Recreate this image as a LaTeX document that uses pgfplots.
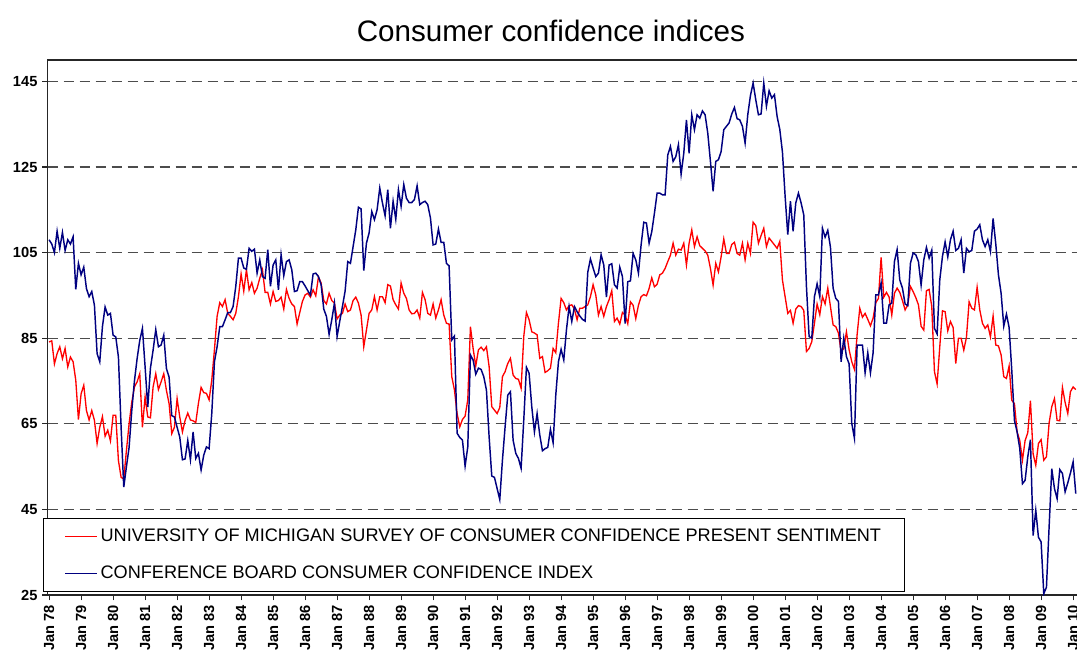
\documentclass[border=0pt]{standalone}
\usepackage{pgfplots}
\pgfplotsset{compat=1.18}
\usepackage{pgfplotstable}
\usepackage{fontspec}
\setmainfont{Liberation Sans}
\definecolor{umred}{RGB}{255,0,0}
\definecolor{cbnavy}{RGB}{0,0,128}
\pgfplotstableread{
m cb um
0 108 84.1
1 107 84.4
2 105 79
3 110 81.4
4 106 83.0
5 109.7 80.2
6 105.5 82.6
7 108 78.3
8 107 80.6
9 108.7 79.5
10 96.4 75.2
11 102.5 66
12 99.8 72.0
13 101.6 74.0
14 96.6 68.1
15 94.7 65.9
16 95.9 68.1
17 92.7 65.8
18 81.4 60.4
19 79.5 64.2
20 87.7 66.7
21 92.3 62.1
22 90.4 63.5
23 90.8 61.0
24 85.7 67.0
25 85.3 67.0
26 80.6 56.4
27 64.2 52.5
28 50.2 52.1
29 55 58.8
30 59.5 65.0
31 68.1 70
32 75 73.6
33 80.2 74.8
34 84.5 76.7
35 87.3 64.2
36 78.3 71.3
37 68.9 66.6
38 78 66.4
39 82.2 73.6
40 87.0 76.7
41 83.0 73.0
42 83.4 74.8
43 85.7 76.7
44 77.9 72.8
45 75.9 69.7
46 66.9 62.7
47 66.6 64.2
48 64.2 70.9
49 61.9 66.6
50 56.6 63.1
51 56.8 65.8
52 61.1 67.5
53 56.6 65.9
54 63.1 65.7
55 56.9 65.3
56 58.1 69.8
57 54.2 73.5
58 57.7 72.3
59 59.6 72.1
60 59.2 70.6
61 67.4 75.2
62 79.5 82.3
63 83.0 90.1
64 87.7 93.3
65 87.7 92.4
66 89.3 94.0
67 91.0 90.8
68 91.0 90.1
69 92.4 89.3
70 97.1 90.8
71 103.7 94.7
72 103.7 100.0
73 101.4 96
74 101.1 101.0
75 106.0 96.3
76 105.3 98.0
77 105.8 95.5
78 100.2 96.7
79 103.3 99.0
80 99.4 101.0
81 99.0 95.7
82 105.7 95.7
83 97.1 93.0
84 102.1 95.9
85 103.3 93.6
86 96.3 93.8
87 104.5 94.6
88 99.6 91.8
89 102.9 96.4
90 103.3 94.3
91 101.0 93.0
92 95.9 92.4
93 96.1 88.3
94 98.2 91.0
95 98.2 93.6
96 97.2 95.1
97 96.1 95.5
98 95.1 94.6
99 100.0 96.3
100 100.2 94.9
101 99.4 99.3
102 97.5 97.9
103 91.8 93.8
104 90.1 93.0
105 85.9 95.5
106 89.3 93.8
107 93.2 93.2
108 85.4 89.5
109 89 90.4
110 92.4 90.8
111 96 93.0
112 102.9 91.2
113 102.5 91.6
114 106.4 93.8
115 110.3 94.6
116 115.6 93.2
117 115.2 90.4
118 100.8 83.0
119 107.2 86.9
120 109.6 90.8
121 114.6 91.6
122 112.7 94.7
123 115.0 91.6
124 120.1 94.7
125 116.6 94.7
126 113.6 93.3
127 119.7 97.5
128 110.7 97.2
129 117.0 94.0
130 112.8 92.8
131 119.7 91.8
132 115.8 97.9
133 120.9 95.5
134 117.7 94.3
135 116.7 91.6
136 116.7 90.7
137 117.4 90.8
138 120.6 91.6
139 116.2 89.7
140 116.7 95.7
141 117.0 94.0
142 116.2 90.8
143 113.1 90.4
144 106.8 93.0
145 107 89.7
146 110.5 91.6
147 107.4 94.0
148 107.4 90.4
149 102.5 88.5
150 101.9 88.3
151 84.6 76.0
152 85.5 72.9
153 62.8 67.4
154 61.8 64.3
155 61.2 66.0
156 55.1 66.8
157 59.6 70.6
158 81.1 87.7
159 79.9 82.6
160 76.6 78.5
161 78.0 82.3
162 77.7 82.9
163 76.0 82.1
164 72.9 83.0
165 62.0 78.4
166 52.8 69.0
167 52.5 68.2
168 49.9 67.4
169 47.3 68.8
170 56.5 76.0
171 64.3 77.2
172 71.7 79.1
173 72.5 80.3
174 61.2 76.4
175 58.1 75.6
176 56.9 75.4
177 54.6 73.3
178 65.9 85.4
179 78.2 91.0
180 76.8 89.3
181 69.0 86.5
182 63.1 86.2
183 67.4 85.8
184 62.4 80.3
185 58.7 80.7
186 59.2 77.0
187 59.5 77.4
188 63.7 78.0
189 60.6 82.6
190 71.7 81.6
191 79.5 88.5
192 82.4 94.3
193 79.9 93.3
194 86.9 91.6
195 92.4 92.6
196 88.9 92.8
197 92.4 91.8
198 91.2 89.3
199 90.2 92.0
200 89.4 92.0
201 89.0 92.4
202 100.4 92.8
203 103.5 94.7
204 101.4 97.5
205 99.4 95.1
206 100.2 90.4
207 104.5 92.4
208 102.1 90.1
209 94.6 92.4
210 102.1 94.0
211 102.4 96.1
212 97.5 88.9
213 96.7 89.7
214 101.6 88.3
215 99.4 91.0
216 88.4 90.4
217 98.2 88.4
218 98.4 93.5
219 104.8 92.7
220 103.3 89.6
221 100.2 92.7
222 106.8 94.7
223 112.1 95.2
224 111.9 94.9
225 107.2 96.6
226 109.9 99.1
227 114.2 97.0
228 118.9 97.6
229 118.9 99.8
230 118.5 100.2
231 118.5 101.3
232 127.8 102.9
233 129.8 104.4
234 126.3 107.2
235 127.4 104.4
236 130.2 105.8
237 123.3 105.6
238 128.2 107.2
239 136.0 102.1
240 128.2 107.2
241 137.2 110.3
242 133.7 106.4
243 137.2 108.7
244 136.4 106.6
245 138.1 106.0
246 137.2 105.4
247 132.9 104.4
248 126.3 101.3
249 119.3 97.4
250 126.3 102.5
251 126.7 100.5
252 128.6 104.0
253 133.7 108.2
254 134.5 104.8
255 135.3 104.8
256 137.4 106.9
257 138.9 107.4
258 136.3 104.8
259 136.0 104.4
260 134.5 107.2
261 130.6 103.3
262 137.2 107.2
263 141.7 104.8
264 144.6 112.1
265 140.7 111.3
266 137.2 107.2
267 137.4 109.0
268 144.6 110.7
269 139.2 106.4
270 142.8 108.4
271 141.1 107.6
272 141.9 106.8
273 136.8 106.0
274 133.8 107.6
275 128.5 98.6
276 118.2 94.7
277 109.2 90.8
278 117.0 91.5
279 110.0 88.5
280 116.6 91.8
281 118.9 92.6
282 116.6 92.4
283 113.8 91.5
284 97.1 81.9
285 85.4 82.6
286 85.0 84.2
287 94.7 88.5
288 97.7 93.0
289 94.7 90.5
290 110.7 94.7
291 108.6 93.0
292 110.2 96.7
293 106.3 92.4
294 96.7 88.1
295 94.3 87.7
296 93.6 86.2
297 79.5 81.9
298 85.0 82.6
299 80.7 86.5
300 79.0 82.3
301 65.1 79.5
302 61.6 77.7
303 83.4 85.8
304 83.4 92.0
305 83.4 89.9
306 76.9 90.8
307 81.6 89.4
308 76.9 87.9
309 81.6 89.7
310 95.1 93.3
311 95.1 94.3
312 97.9 103.9
313 88.5 94.6
314 88.5 95.7
315 92.8 94.6
316 93.2 90.4
317 102.9 95.5
318 105.7 96.7
319 98.6 95.7
320 96.7 93.8
321 93.0 91.6
322 92.6 92.8
323 102.5 97.1
324 104.9 95.9
325 104.5 94.5
326 102.9 92.8
327 97.4 87.8
328 103.3 86.9
329 106.2 96.1
330 103.7 96.4
331 105.6 92.4
332 87.3 77.2
333 86 74.3
334 98.6 83.0
335 104.1 91.4
336 107.5 91.2
337 104 86.7
338 108 88.9
339 110 87.5
340 105.5 79.1
341 106 85.0
342 108 85.0
343 100.2 82.2
344 106 85.2
345 105.2 93.5
346 105.5 92.0
347 110 91.6
348 110.5 96.9
349 111.5 91.6
350 108 88.5
351 106.4 87.3
352 108 88.1
353 105.2 85.3
354 113 90.2
355 107 83.4
356 99.8 83.2
357 95.5 81.1
358 87.8 76.0
359 90.6 75.6
360 87.5 78.5
361 77.5 70.5
362 65.8 69.7
363 63.1 63.1
364 59.2 61.1
365 51.0 56.5
366 51.8 61.1
367 57.3 62.9
368 61.3 70.4
369 38.9 58.0
370 44.8 55.3
371 38.5 60.4
372 37.4 61.3
373 25.3 56.5
374 26.8 57.3
375 40.9 65.2
376 54.5 69.0
377 49.9 70.9
378 47.5 65.8
379 54.3 65.7
380 53.4 73.5
381 49.1 70
382 51.2 67.4
383 53.5 72.5
384 56.1 73.6
385 48.7 73.0
}\datatable
\begin{document}
\begin{tikzpicture}
\begin{axis}[
  at={(0pt,0pt)}, anchor=south west,
  x=2pt, y=3.21pt,
  xmin=-0.6, xmax=386.5,
  ymin=25, ymax=150,
  axis line style={black!85, line width=0.9pt},
  tick pos=left,
  tick align=outside,
  major tick length=4pt,
  tick style={black!85, line width=0.9pt},
  ytick={25,45,65,85,105,125,145},
  ymajorgrids,
  grid style={black!70, line width=0.8pt, dash pattern=on 7.5pt off 4.5pt},
  xtick={0,12,...,384},
  xticklabels={Jan 78,Jan 79,Jan 80,Jan 81,Jan 82,Jan 83,Jan 84,Jan 85,Jan 86,Jan 87,Jan 88,Jan 89,Jan 90,Jan 91,Jan 92,Jan 93,Jan 94,Jan 95,Jan 96,Jan 97,Jan 98,Jan 99,Jan 00,Jan 01,Jan 02,Jan 03,Jan 04,Jan 05,Jan 06,Jan 07,Jan 08,Jan 09,Jan 10},
  x tick label style={rotate=90, anchor=east, font=\bfseries\fontsize{11}{13}\selectfont},
  y tick label style={font=\bfseries\fontsize{11}{13}\selectfont},
  /pgf/number format/assume math mode=true,
  title={Consumer confidence indices},
  title style={at={(0.4877,1.0342)}, anchor=base, yshift=-6pt, inner sep=0pt, font=\fontsize{22.2}{27}\selectfont},
  legend cell align=left,
  legend style={at={(-0.0044,0.0056)}, anchor=south west, draw=black, line width=0.75pt, fill=white,
    font=\fontsize{13.6}{16}\selectfont, inner xsep=15.75pt, inner ysep=6pt, row sep=13pt},
  legend image code/.code={\draw[#1] (0pt,0pt) -- (24pt,0pt);},
]
\addplot[umred, line width=1pt] table[x=m, y=um] {\datatable};
\addlegendentry{UNIVERSITY OF MICHIGAN SURVEY OF CONSUMER CONFIDENCE PRESENT SENTIMENT}
\addplot[cbnavy, line width=1.1pt] table[x=m, y=cb] {\datatable};
\addlegendentry{CONFERENCE BOARD CONSUMER CONFIDENCE INDEX}
\end{axis}
\pgfresetboundingbox
\path[use as bounding box] (-35.625pt,-41.25pt) rectangle (772.125pt,446.25pt);
\end{tikzpicture}
\end{document}
